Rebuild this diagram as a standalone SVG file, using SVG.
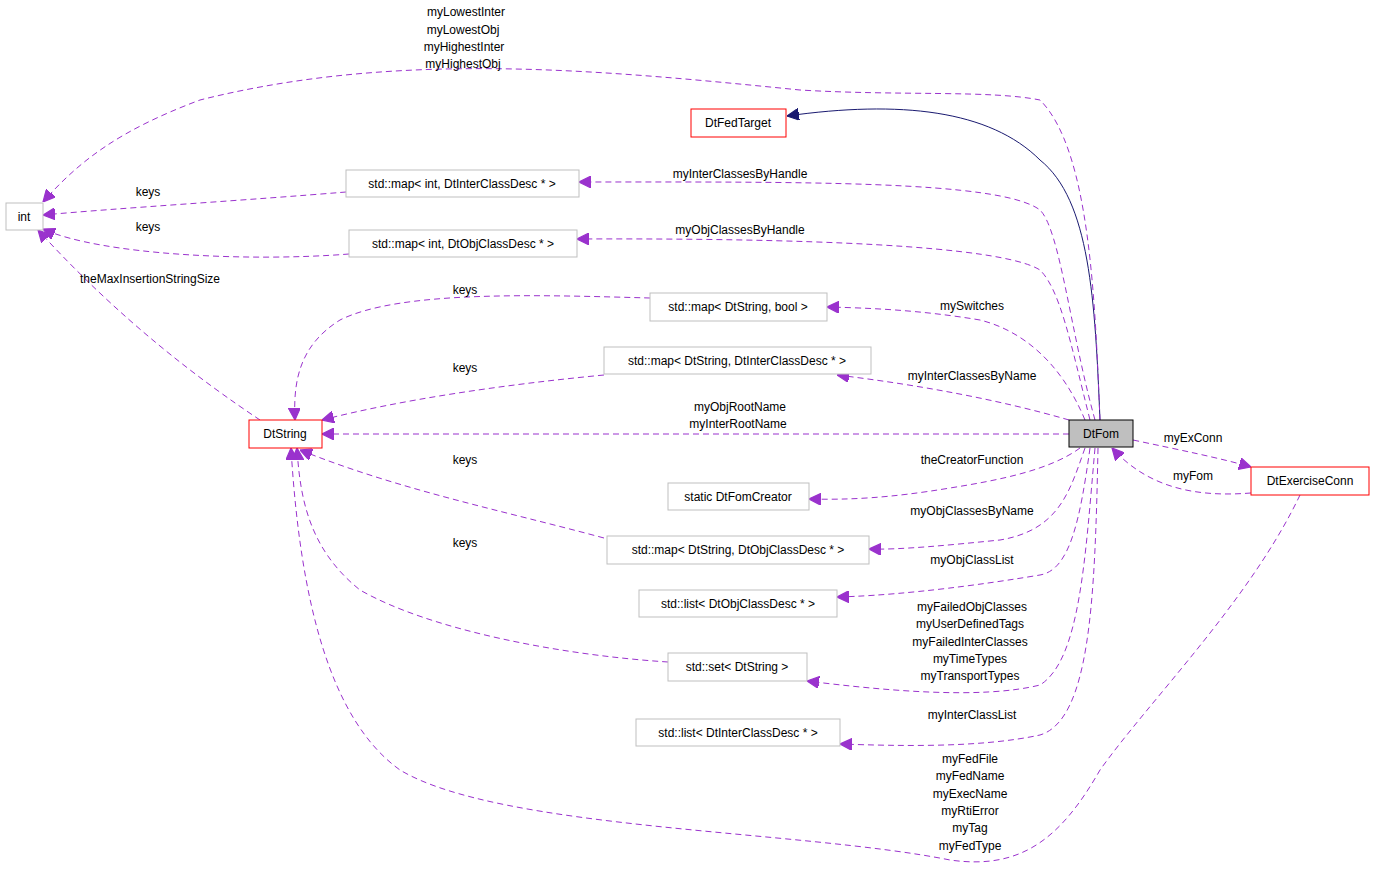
<svg xmlns="http://www.w3.org/2000/svg" width="1376" height="879" viewBox="0 0 1376 879">
<style>
text{font-family:"Liberation Sans",Arial,sans-serif;font-size:12px;fill:#000}
.n rect{fill:#fff;stroke:#bfbfbf;stroke-width:1}
.r rect{stroke:#ff0000}
.c path{fill:none;stroke:#9a32cd;stroke-dasharray:6,4;stroke-width:1}
.c path.s{stroke:#191970;stroke-dasharray:none}
.c text{text-anchor:middle}
.n text{text-anchor:middle}
</style>
<defs>
<marker id="a" viewBox="0 0 10 10" refX="10" refY="5" markerWidth="12" markerHeight="12" markerUnits="userSpaceOnUse" orient="auto"><path d="M0,0L10,5L0,10z" fill="#9a32cd" stroke="#9a32cd"/></marker>
<marker id="b" viewBox="0 0 10 10" refX="10" refY="5" markerWidth="12" markerHeight="12" markerUnits="userSpaceOnUse" orient="auto"><path d="M0,0L10,5L0,10z" fill="#191970" stroke="#191970"/></marker>
</defs>
<rect width="1376" height="879" fill="#fff"/>
<g class="c">
<path class="s" d="M1100,420C1095,300 1090,200 1040,160C990,110 900,100 787,116" marker-end="url(#b)"/>
<path d="M1100,420C1095,300 1090,150 1040,100C990,90 900,96 800,90C600,70 400,50 200,100C120,130 80,160 43,202" marker-end="url(#a)"/>
<text x="466" y="16">myLowestInter</text><text x="463" y="34">myLowestObj</text><text x="464" y="51">myHighestInter</text><text x="463" y="68">myHighestObj</text>
<path d="M346,192C250,200 120,208 43,215" marker-end="url(#a)"/><text x="148" y="196">keys</text>
<path d="M349,254C250,262 100,255 43,229" marker-end="url(#a)"/><text x="148" y="231">keys</text>
<path d="M260,420C200,380 120,320 38,230" marker-end="url(#a)"/><text x="150" y="283">theMaxInsertionStringSize</text>
<path d="M1095,420C1070,330 1060,230 1040,210C1000,180 800,182 579,182" marker-end="url(#a)"/><text x="740" y="178">myInterClassesByHandle</text>
<path d="M1090,420C1070,340 1060,290 1040,270C1000,245 800,238 577,239" marker-end="url(#a)"/><text x="740" y="234">myObjClassesByHandle</text>
<path d="M1085,420C1060,360 1020,330 980,320C920,310 870,308 827,307" marker-end="url(#a)"/><text x="972" y="310">mySwitches</text>
<path d="M1069,420C1000,400 920,385 837,375" marker-end="url(#a)"/><text x="972" y="380">myInterClassesByName</text>
<path d="M650,298C540,295 400,290 340,320C300,345 293,380 295,420" marker-end="url(#a)"/><text x="465" y="294">keys</text>
<path d="M604,375C500,385 400,400 322,420" marker-end="url(#a)"/><text x="465" y="372">keys</text>
<path d="M1069,434L322,434" marker-end="url(#a)"/><text x="740" y="411">myObjRootName</text><text x="738" y="428">myInterRootName</text>
<path d="M1080,448C1050,470 1000,480 950,488C890,498 850,500 809,499" marker-end="url(#a)"/><text x="972" y="464">theCreatorFunction</text>
<path d="M604,538C500,510 400,490 300,450" marker-end="url(#a)"/><text x="465" y="464">keys</text>
<path d="M1085,448C1070,490 1060,530 1000,540C950,545 900,550 869,549" marker-end="url(#a)"/><text x="972" y="515">myObjClassesByName</text>
<path d="M1090,448C1080,520 1070,570 1040,575C950,590 880,596 837,597" marker-end="url(#a)"/><text x="972" y="564">myObjClassList</text>
<path d="M668,662C560,655 430,630 360,590C310,550 300,500 297,448" marker-end="url(#a)"/><text x="465" y="547">keys</text>
<path d="M1095,448C1085,560 1080,660 1040,685C980,700 880,690 807,681" marker-end="url(#a)"/><text x="972" y="611">myFailedObjClasses</text><text x="970" y="628">myUserDefinedTags</text><text x="970" y="646">myFailedInterClasses</text><text x="970" y="663">myTimeTypes</text><text x="970" y="680">myTransportTypes</text>
<path d="M1098,448C1095,600 1090,720 1040,735C980,748 900,746 840,744" marker-end="url(#a)"/><text x="972" y="719">myInterClassList</text>
<path d="M1300,495C1250,600 1150,700 1100,770C1060,840 1020,870 950,860C800,830 500,830 400,770C330,720 300,600 291,448" marker-end="url(#a)"/><text x="970" y="763">myFedFile</text><text x="970" y="780">myFedName</text><text x="970" y="798">myExecName</text><text x="970" y="815">myRtiError</text><text x="970" y="832">myTag</text><text x="970" y="850">myFedType</text>
<path d="M1133,440C1180,450 1220,458 1251,467" marker-end="url(#a)"/><text x="1193" y="442">myExConn</text>
<path d="M1251,493C1200,497 1150,490 1112,448" marker-end="url(#a)"/><text x="1193" y="480">myFom</text>
</g>
<g class="n" id="int"><rect x="6" y="203" width="37" height="27"/><text x="24" y="221">int</text></g>
<g class="n r" id="DtFedTarget"><rect x="691" y="109" width="95" height="28"/><text x="738" y="127">DtFedTarget</text></g>
<g class="n" id="mapIntInter"><rect x="346" y="170" width="233" height="27"/><text x="462" y="188">std::map&lt; int, DtInterClassDesc * &gt;</text></g>
<g class="n" id="mapIntObj"><rect x="349" y="230" width="228" height="27"/><text x="463" y="248">std::map&lt; int, DtObjClassDesc * &gt;</text></g>
<g class="n" id="mapStrBool"><rect x="650" y="293" width="177" height="28"/><text x="738" y="311">std::map&lt; DtString, bool &gt;</text></g>
<g class="n" id="mapStrInter"><rect x="604" y="347" width="267" height="27"/><text x="737" y="365">std::map&lt; DtString, DtInterClassDesc * &gt;</text></g>
<g class="n r" id="DtString"><rect x="249" y="420" width="73" height="28"/><text x="285" y="438">DtString</text></g>
<g class="n" id="DtFom"><rect x="1069" y="420" width="64" height="27" style="fill:#bfbfbf;stroke:#000"/><text x="1101" y="438">DtFom</text></g>
<g class="n" id="creator"><rect x="668" y="483" width="141" height="27"/><text x="738" y="501">static DtFomCreator</text></g>
<g class="n" id="mapStrObj"><rect x="607" y="536" width="262" height="28"/><text x="738" y="554">std::map&lt; DtString, DtObjClassDesc * &gt;</text></g>
<g class="n" id="listObj"><rect x="639" y="590" width="198" height="27"/><text x="738" y="608">std::list&lt; DtObjClassDesc * &gt;</text></g>
<g class="n" id="setStr"><rect x="668" y="653" width="139" height="28"/><text x="737" y="671">std::set&lt; DtString &gt;</text></g>
<g class="n" id="listInter"><rect x="636" y="719" width="204" height="27"/><text x="738" y="737">std::list&lt; DtInterClassDesc * &gt;</text></g>
<g class="n r" id="DtExerciseConn"><rect x="1251" y="467" width="118" height="28"/><text x="1310" y="485">DtExerciseConn</text></g>
</svg>
